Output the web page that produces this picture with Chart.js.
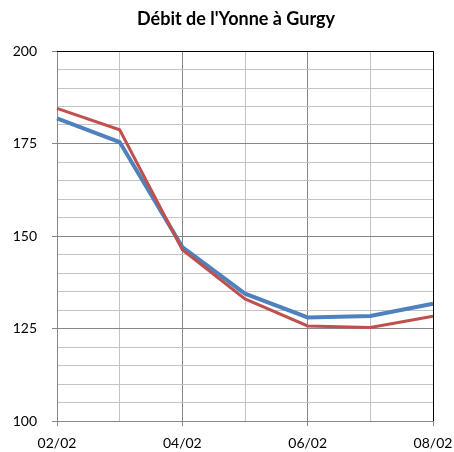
<!DOCTYPE html>
<html>
<head>
<meta charset="utf-8">
<script src="https://cdn.jsdelivr.net/npm/chart.js@4"></script>
<style>
  html, body { margin: 0; padding: 0; background: #fff; }
  #wrap { width: 454px; height: 452px; }
</style>
</head>
<body>
<div id="wrap"><canvas id="debitChart" width="454" height="452"></canvas></div>
<script>
// data
const dates = ["02/02", "03/02", "04/02", "05/02", "06/02", "07/02", "08/02"];
const blueSerie = [181.8, 175.4, 147.0, 134.4, 128.0, 128.4, 131.7];
const redSerie = [184.5, 178.7, 146.3, 133.0, 125.7, 125.3, 128.3];
const yMin = 100;
const yMax = 200;

const majorGrey = "#868686";
const minorGrey = "#c3c3c3";

// top and right edges of the plot are black
const frameLines = {
  id: "frameLines",
  afterLayout(chart) {
    // title sits a bit right of the canvas centre in the original
    chart.titleBlock.left += 39;
  },
  afterDraw(chart) {
    const a = chart.chartArea;
    const c = chart.ctx;
    c.save();
    c.strokeStyle = "#000";
    c.lineWidth = 1;
    c.beginPath();
    c.moveTo(a.left, a.top + 0.5);
    c.lineTo(a.right + 0.5, a.top + 0.5);
    c.lineTo(a.right + 0.5, a.bottom);
    c.stroke();
    c.restore();
  },
};

Chart.defaults.font.family = "Lato, 'Noto Sans', sans-serif";
Chart.defaults.color = "#000";

var ctx = document.getElementById("debitChart").getContext("2d");
var debitChart = new Chart(ctx, {
  type: "line",
  data: {
    labels: dates,
    datasets: [
      {
        data: blueSerie,
        borderColor: "#4f81bd",
        borderWidth: 4,
        pointRadius: 0,
        tension: 0,
        order: 1,
      },
      {
        data: redSerie,
        borderColor: "#c0504d",
        borderWidth: 3,
        pointRadius: 0,
        tension: 0,
        order: 0,
      },
    ],
  },
  options: {
    responsive: false,
    animation: false,
    layout: { padding: { left: 0, right: 21, top: 0, bottom: 0 } },
    plugins: {
      legend: { display: false },
      tooltip: { enabled: false },
      title: {
        display: true,
        text: "Débit de l'Yonne à Gurgy",
        font: { size: 18, weight: "bold", lineHeight: 1.2 },
        padding: { top: 8, bottom: 21.4 },
      },
    },
    scales: {
      x: {
        afterFit: (scale) => {
          scale.height = 31;
          scale.paddingLeft = 0;
          scale.paddingRight = 0;
        },
        grid: {
          color: (c) => (c.index % 2 === 0 ? majorGrey : minorGrey),
          tickColor: (c) => (c.index % 2 === 0 ? majorGrey : "rgba(0,0,0,0)"),
          tickLength: 5,
        },
        border: { color: majorGrey },
        ticks: {
          autoSkip: false,
          maxRotation: 0,
          padding: 9,
          font: { size: 14 },
          callback: function (val, i) {
            return i % 2 === 0 ? dates[i] : "";
          },
        },
      },
      y: {
        min: yMin,
        max: yMax,
        afterFit: (scale) => {
          scale.width = 57;
        },
        grid: {
          color: (c) => (c.tick && c.tick.value % 25 === 0 ? majorGrey : minorGrey),
          tickColor: (c) => (c.tick && c.tick.value % 25 === 0 ? majorGrey : "rgba(0,0,0,0)"),
          tickLength: 5,
        },
        border: { color: majorGrey },
        ticks: {
          stepSize: 5,
          autoSkip: false,
          padding: 15,
          font: { size: 14 },
          callback: function (v) {
            return v % 25 === 0 ? v : "";
          },
        },
      },
    },
  },
  plugins: [frameLines],
});
</script>
</body>
</html>
